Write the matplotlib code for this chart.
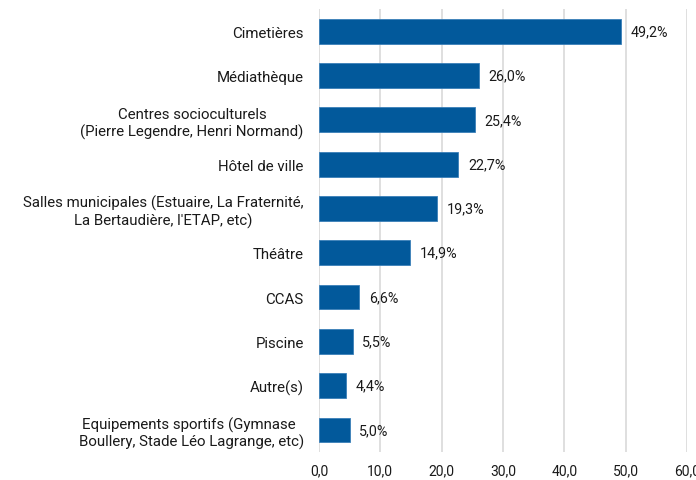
import matplotlib.pyplot as plt
from matplotlib.ticker import FuncFormatter

plt.rcParams['font.family'] = ['Roboto', 'DejaVu Sans']

categories = ["Cimetières",
              "Médiathèque",
              "Centres socioculturels\n(Pierre Legendre, Henri Normand)",
              "Hôtel de ville",
              "Salles municipales (Estuaire, La Fraternité,\nLa Bertaudière, l'ETAP, etc)",
              "Théâtre",
              "CCAS",
              "Piscine",
              "Autre(s)",
              "Equipements sportifs (Gymnase \nBoullery, Stade Léo Lagrange, etc)"]
values = [49.2, 26.0, 25.4, 22.7, 19.3, 14.9, 6.6, 5.5, 4.4, 5.0]

fig = plt.figure(figsize=(6.96, 4.81), dpi=100)
ax = fig.add_axes([0.4583, 0.058, 0.529, 0.921])

pos = list(range(len(values)))
ax.barh(pos, values, height=0.56, color='#02599b', edgecolor='#3a7fb8', linewidth=0.6, zorder=3)
for p, v in zip(pos, values):
    ax.annotate(f"{v:.1f}%".replace('.', ','), (v, p), xytext=(7, 0),
                textcoords='offset points', va='center', ha='left', fontsize=10.3, color='#1a1a1a')

ax.set_yticks(pos)
ax.set_yticklabels(categories, fontsize=10.8, color='#1a1a1a', multialignment='center')
ax.set_ylim(len(values) - 0.5, -0.5)
ax.set_xlim(0, 60)
ax.set_xticks(range(0, 61, 10))
ax.xaxis.set_major_formatter(FuncFormatter(lambda x, p: f"{x:.1f}".replace('.', ',')))
ax.tick_params(axis='x', labelsize=10, colors='#1a1a1a', length=0, pad=8)
ax.tick_params(axis='y', length=0, pad=11)
ax.grid(axis='x', color='#d9d9d9', linewidth=1.2, zorder=0)
for s in ax.spines.values():
    s.set_visible(False)

fig.savefig("out.png", dpi=100)
